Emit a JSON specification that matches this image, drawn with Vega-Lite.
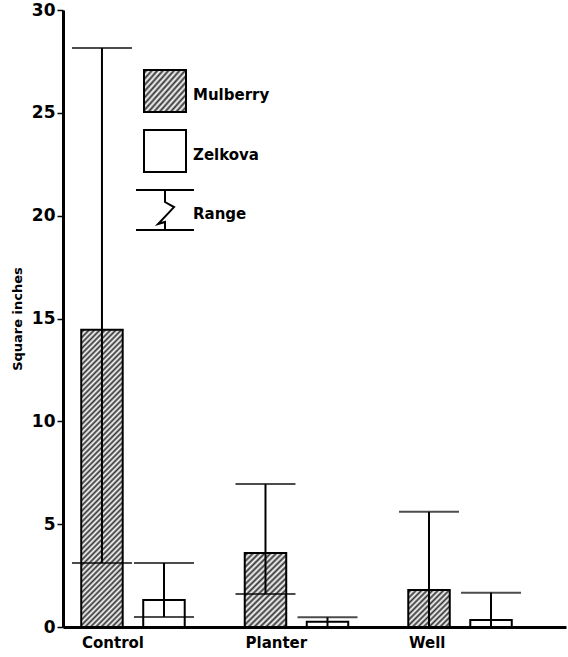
{
  "$schema": "https://vega.github.io/schema/vega-lite/v6.json",
  "width": 503,
  "height": 617,
  "autosize": {"type": "none"},
  "padding": {"left": 63, "top": 10, "right": 2, "bottom": 30},
  "background": "white",
  "config": {
    "view": {"stroke": null},
    "font": "DejaVu Sans"
  },
  "data": {
    "values": [
      {"group": "Control", "species": "Mulberry", "value": 14.45, "low": 3.11, "high": 28.15},
      {"group": "Control", "species": "Zelkova", "value": 1.31, "low": 0.49, "high": 3.11},
      {"group": "Planter", "species": "Mulberry", "value": 3.6, "low": 1.6, "high": 6.95},
      {"group": "Planter", "species": "Zelkova", "value": 0.26, "low": 0, "high": 0.47},
      {"group": "Well", "species": "Mulberry", "value": 1.8, "low": 0, "high": 5.6},
      {"group": "Well", "species": "Zelkova", "value": 0.34, "low": 0, "high": 1.67}
    ]
  },
  "encoding": {
    "x": {
      "field": "group", "type": "nominal", "sort": ["Control", "Planter", "Well"],
      "scale": {"paddingInner": 0, "paddingOuter": 0.038},
      "axis": {
        "title": null, "domainColor": "black", "domainWidth": 3, "ticks": false,
        "labelAngle": 0, "labelAlign": "left", "labelOffset": -69, "labelBaseline": "top",
        "labelPadding": 8, "labelFont": "DejaVu Sans", "labelFontSize": 15,
        "labelFontWeight": "bold", "labelColor": "black"
      }
    },
    "xOffset": {
      "field": "species", "type": "nominal", "sort": ["Mulberry", "Zelkova"],
      "scale": {"paddingInner": 0.331, "paddingOuter": 0.484, "align": 0.2}
    }
  },
  "layer": [
    {
      "mark": {"type": "bar", "stroke": "black", "strokeWidth": 2},
      "encoding": {
        "y": {
          "field": "value", "type": "quantitative",
          "scale": {"domain": [0, 30], "nice": false},
          "axis": {
            "title": "Square inches", "values": [0, 5, 10, 15, 20, 25, 30],
            "grid": false, "domainColor": "black", "domainWidth": 3,
            "tickColor": "black", "tickWidth": 1.5, "tickSize": 6,
            "labelFont": "DejaVu Sans", "labelFontSize": 17, "labelFontWeight": "bold",
            "labelColor": "black", "labelPadding": 2,
            "titleFont": "DejaVu Sans", "titleFontSize": 13, "titleFontWeight": "bold",
            "titleColor": "black", "titlePadding": 7
          }
        },
        "fill": {
          "field": "species", "type": "nominal",
          "scale": {"domain": ["Mulberry", "Zelkova", "Range"], "range": ["url(#gradient_2) #999999", "white", "transparent"]},
          "legend": {
            "title": null, "orient": "none", "legendX": 80, "legendY": 59, "padding": 0,
            "symbolType": "square", "symbolSize": 1764, "symbolStrokeColor": "black", "symbolStrokeWidth": 2,
            "rowPadding": 10, "labelOffset": 6,
            "labelFont": "DejaVu Sans", "labelFontSize": 15, "labelFontWeight": "bold", "labelColor": "black",
            "encode": {
              "symbols": {
                "update": {
                  "shape": {"signal": "datum.value === 'Range' ? 'M-1.38,-0.95H1.38M0,-0.95V-0.38L0.43,-0.14L-0.33,0.67L0,0.57V0.95M-1.38,0.95H1.38' : 'square'"},
                  "stroke": {"value": "black"},
                  "strokeWidth": {"value": 2}
                }
              },
              "labels": {"update": {"dy": {"value": 4}}}
            }
          },
          "condition": [
            {"test": "datum.group === 'Control' && datum.species === 'Mulberry'", "value": {"gradient": "linear", "x1": 0, "y1": 0, "x2": 0.1577, "y2": 1.1187, "stops": [
              {"offset": 0, "color": "#fff"}, {"offset": 0.008, "color": "#333"}, {"offset": 0.016, "color": "#fff"}, {"offset": 0.024, "color": "#333"},
              {"offset": 0.032, "color": "#fff"}, {"offset": 0.04, "color": "#333"}, {"offset": 0.048, "color": "#fff"}, {"offset": 0.056, "color": "#333"},
              {"offset": 0.064, "color": "#fff"}, {"offset": 0.072, "color": "#333"}, {"offset": 0.08, "color": "#fff"}, {"offset": 0.088, "color": "#333"},
              {"offset": 0.096, "color": "#fff"}, {"offset": 0.104, "color": "#333"}, {"offset": 0.112, "color": "#fff"}, {"offset": 0.12, "color": "#333"},
              {"offset": 0.128, "color": "#fff"}, {"offset": 0.136, "color": "#333"}, {"offset": 0.144, "color": "#fff"}, {"offset": 0.152, "color": "#333"},
              {"offset": 0.16, "color": "#fff"}, {"offset": 0.168, "color": "#333"}, {"offset": 0.176, "color": "#fff"}, {"offset": 0.184, "color": "#333"},
              {"offset": 0.192, "color": "#fff"}, {"offset": 0.2, "color": "#333"}, {"offset": 0.208, "color": "#fff"}, {"offset": 0.216, "color": "#333"},
              {"offset": 0.224, "color": "#fff"}, {"offset": 0.232, "color": "#333"}, {"offset": 0.24, "color": "#fff"}, {"offset": 0.248, "color": "#333"},
              {"offset": 0.256, "color": "#fff"}, {"offset": 0.264, "color": "#333"}, {"offset": 0.272, "color": "#fff"}, {"offset": 0.28, "color": "#333"},
              {"offset": 0.288, "color": "#fff"}, {"offset": 0.296, "color": "#333"}, {"offset": 0.304, "color": "#fff"}, {"offset": 0.312, "color": "#333"},
              {"offset": 0.32, "color": "#fff"}, {"offset": 0.328, "color": "#333"}, {"offset": 0.336, "color": "#fff"}, {"offset": 0.344, "color": "#333"},
              {"offset": 0.352, "color": "#fff"}, {"offset": 0.36, "color": "#333"}, {"offset": 0.368, "color": "#fff"}, {"offset": 0.376, "color": "#333"},
              {"offset": 0.384, "color": "#fff"}, {"offset": 0.392, "color": "#333"}, {"offset": 0.4, "color": "#fff"}, {"offset": 0.408, "color": "#333"},
              {"offset": 0.416, "color": "#fff"}, {"offset": 0.424, "color": "#333"}, {"offset": 0.432, "color": "#fff"}, {"offset": 0.44, "color": "#333"},
              {"offset": 0.448, "color": "#fff"}, {"offset": 0.456, "color": "#333"}, {"offset": 0.464, "color": "#fff"}, {"offset": 0.472, "color": "#333"},
              {"offset": 0.48, "color": "#fff"}, {"offset": 0.488, "color": "#333"}, {"offset": 0.496, "color": "#fff"}, {"offset": 0.504, "color": "#333"},
              {"offset": 0.512, "color": "#fff"}, {"offset": 0.52, "color": "#333"}, {"offset": 0.528, "color": "#fff"}, {"offset": 0.536, "color": "#333"},
              {"offset": 0.544, "color": "#fff"}, {"offset": 0.552, "color": "#333"}, {"offset": 0.56, "color": "#fff"}, {"offset": 0.568, "color": "#333"},
              {"offset": 0.576, "color": "#fff"}, {"offset": 0.584, "color": "#333"}, {"offset": 0.592, "color": "#fff"}, {"offset": 0.6, "color": "#333"},
              {"offset": 0.608, "color": "#fff"}, {"offset": 0.616, "color": "#333"}, {"offset": 0.624, "color": "#fff"}, {"offset": 0.632, "color": "#333"},
              {"offset": 0.64, "color": "#fff"}, {"offset": 0.648, "color": "#333"}, {"offset": 0.656, "color": "#fff"}, {"offset": 0.664, "color": "#333"},
              {"offset": 0.672, "color": "#fff"}, {"offset": 0.68, "color": "#333"}, {"offset": 0.688, "color": "#fff"}, {"offset": 0.696, "color": "#333"},
              {"offset": 0.704, "color": "#fff"}, {"offset": 0.712, "color": "#333"}, {"offset": 0.72, "color": "#fff"}, {"offset": 0.728, "color": "#333"},
              {"offset": 0.736, "color": "#fff"}, {"offset": 0.744, "color": "#333"}, {"offset": 0.752, "color": "#fff"}, {"offset": 0.76, "color": "#333"},
              {"offset": 0.768, "color": "#fff"}, {"offset": 0.776, "color": "#333"}, {"offset": 0.784, "color": "#fff"}, {"offset": 0.792, "color": "#333"},
              {"offset": 0.8, "color": "#fff"}, {"offset": 0.808, "color": "#333"}, {"offset": 0.816, "color": "#fff"}, {"offset": 0.824, "color": "#333"},
              {"offset": 0.832, "color": "#fff"}, {"offset": 0.84, "color": "#333"}, {"offset": 0.848, "color": "#fff"}, {"offset": 0.856, "color": "#333"},
              {"offset": 0.864, "color": "#fff"}, {"offset": 0.872, "color": "#333"}, {"offset": 0.88, "color": "#fff"}, {"offset": 0.888, "color": "#333"},
              {"offset": 0.896, "color": "#fff"}, {"offset": 0.904, "color": "#333"}, {"offset": 0.912, "color": "#fff"}, {"offset": 0.92, "color": "#333"},
              {"offset": 0.928, "color": "#fff"}, {"offset": 0.936, "color": "#333"}, {"offset": 0.944, "color": "#fff"}, {"offset": 0.952, "color": "#333"},
              {"offset": 0.96, "color": "#fff"}, {"offset": 0.968, "color": "#333"}, {"offset": 0.976, "color": "#fff"}, {"offset": 0.984, "color": "#333"},
              {"offset": 0.992, "color": "#fff"}, {"offset": 1, "color": "#333"}
            ]}},
            {"test": "datum.group === 'Planter' && datum.species === 'Mulberry'", "value": {"gradient": "linear", "x1": 0, "y1": 0, "x2": 0.6588, "y2": 1.189, "stops": [
              {"offset": 0, "color": "#fff"}, {"offset": 0.025, "color": "#333"}, {"offset": 0.05, "color": "#fff"}, {"offset": 0.075, "color": "#333"},
              {"offset": 0.1, "color": "#fff"}, {"offset": 0.125, "color": "#333"}, {"offset": 0.15, "color": "#fff"}, {"offset": 0.175, "color": "#333"},
              {"offset": 0.2, "color": "#fff"}, {"offset": 0.225, "color": "#333"}, {"offset": 0.25, "color": "#fff"}, {"offset": 0.275, "color": "#333"},
              {"offset": 0.3, "color": "#fff"}, {"offset": 0.325, "color": "#333"}, {"offset": 0.35, "color": "#fff"}, {"offset": 0.375, "color": "#333"},
              {"offset": 0.4, "color": "#fff"}, {"offset": 0.425, "color": "#333"}, {"offset": 0.45, "color": "#fff"}, {"offset": 0.475, "color": "#333"},
              {"offset": 0.5, "color": "#fff"}, {"offset": 0.525, "color": "#333"}, {"offset": 0.55, "color": "#fff"}, {"offset": 0.575, "color": "#333"},
              {"offset": 0.6, "color": "#fff"}, {"offset": 0.625, "color": "#333"}, {"offset": 0.65, "color": "#fff"}, {"offset": 0.675, "color": "#333"},
              {"offset": 0.7, "color": "#fff"}, {"offset": 0.725, "color": "#333"}, {"offset": 0.75, "color": "#fff"}, {"offset": 0.775, "color": "#333"},
              {"offset": 0.8, "color": "#fff"}, {"offset": 0.825, "color": "#333"}, {"offset": 0.85, "color": "#fff"}, {"offset": 0.875, "color": "#333"},
              {"offset": 0.9, "color": "#fff"}, {"offset": 0.925, "color": "#333"}, {"offset": 0.95, "color": "#fff"}, {"offset": 0.975, "color": "#333"},
              {"offset": 1, "color": "#fff"}
            ]}},
            {"test": "datum.group === 'Well' && datum.species === 'Mulberry'", "value": {"gradient": "linear", "x1": 0, "y1": 0, "x2": 1.054, "y2": 0.9397, "stops": [
              {"offset": 0, "color": "#fff"}, {"offset": 0.035, "color": "#333"}, {"offset": 0.07, "color": "#fff"}, {"offset": 0.105, "color": "#333"},
              {"offset": 0.14, "color": "#fff"}, {"offset": 0.175, "color": "#333"}, {"offset": 0.21, "color": "#fff"}, {"offset": 0.245, "color": "#333"},
              {"offset": 0.28, "color": "#fff"}, {"offset": 0.315, "color": "#333"}, {"offset": 0.35, "color": "#fff"}, {"offset": 0.385, "color": "#333"},
              {"offset": 0.42, "color": "#fff"}, {"offset": 0.455, "color": "#333"}, {"offset": 0.49, "color": "#fff"}, {"offset": 0.525, "color": "#333"},
              {"offset": 0.56, "color": "#fff"}, {"offset": 0.595, "color": "#333"}, {"offset": 0.63, "color": "#fff"}, {"offset": 0.665, "color": "#333"},
              {"offset": 0.7, "color": "#fff"}, {"offset": 0.735, "color": "#333"}, {"offset": 0.77, "color": "#fff"}, {"offset": 0.805, "color": "#333"},
              {"offset": 0.84, "color": "#fff"}, {"offset": 0.875, "color": "#333"}, {"offset": 0.91, "color": "#fff"}, {"offset": 0.945, "color": "#333"},
              {"offset": 0.98, "color": "#fff"}, {"offset": 1, "color": "#999"}
            ]}}
          ]
        }
      }
    },
    {
      "mark": {"type": "rule", "color": "black", "strokeWidth": 2},
      "encoding": {
        "y": {"field": "low", "type": "quantitative"},
        "y2": {"field": "high"}
      }
    },
    {
      "mark": {"type": "tick", "color": "black", "orient": "horizontal", "size": 60, "thickness": 2},
      "encoding": {
        "y": {"field": "high", "type": "quantitative"}
      }
    },
    {
      "mark": {"type": "tick", "color": "black", "orient": "horizontal", "size": 60, "thickness": 2},
      "encoding": {
        "y": {"field": "low", "type": "quantitative"}
      }
    }
  ]
}
